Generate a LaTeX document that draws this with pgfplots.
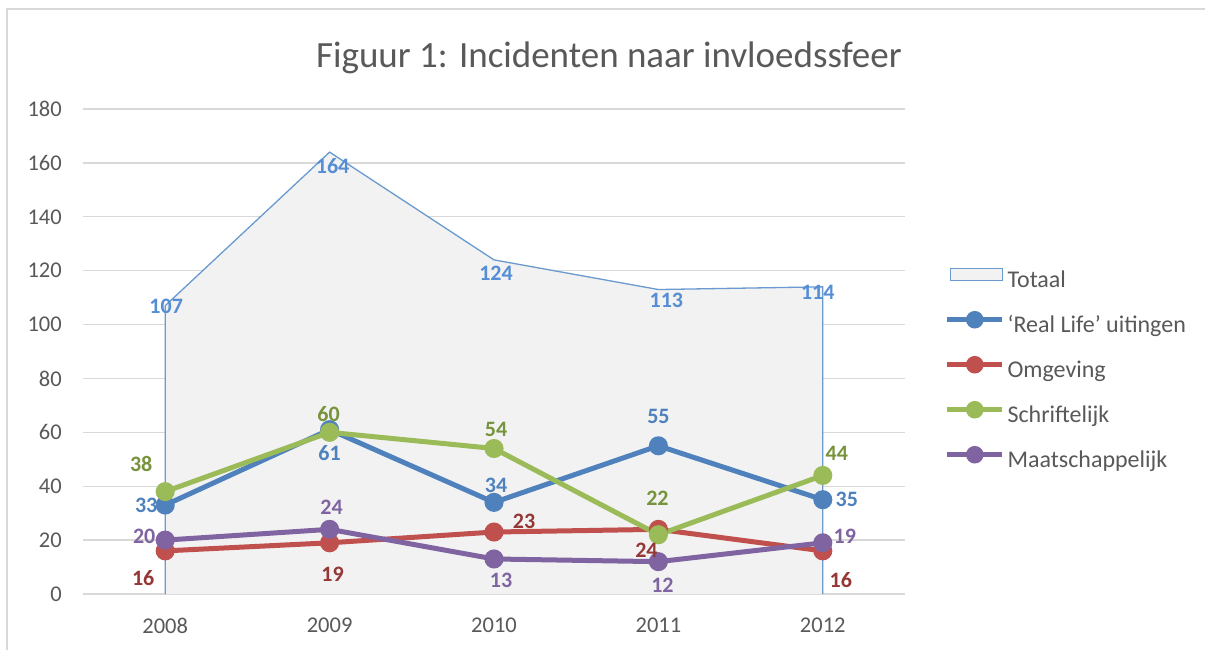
\documentclass[border=0pt]{standalone}
\usepackage{pgfplots}
\pgfplotsset{compat=1.18}
\usepackage{pgfplotstable}
\usepackage{fontspec}
\setmainfont{Carlito}
\definecolor{cBlue}{HTML}{4F81BD}
\definecolor{cRed}{HTML}{C0504D}
\definecolor{cGreen}{HTML}{9BBB59}
\definecolor{cPurple}{HTML}{8064A2}
\definecolor{lBlue}{HTML}{4F81BD}
\definecolor{lTot}{HTML}{558ED5}
\definecolor{lRed}{HTML}{953735}
\definecolor{lGreen}{HTML}{77933C}
\definecolor{lPurple}{HTML}{8064A2}
\definecolor{areaGray}{HTML}{F2F2F2}
\definecolor{areaBlue}{HTML}{6A9AD0}
\definecolor{gridGray}{HTML}{D9D9D9}
\definecolor{txtGray}{HTML}{595959}

\pgfplotstableread{
x y dx dy
0 107 1 -1
1 164 3 -14
2 124 2 -13
3 113 8 -11
4 114 -5 -6
}\totaal
\pgfplotstableread{
x y
0 0
0 107
1 164
2 124
3 113
4 114
4 0
}\totaalrand
\pgfplotstableread{
x y dx dy
0 33 -19 0
1 61 0 -23
2 34 2 17
3 55 0 29
4 35 24 0
}\reallife
\pgfplotstableread{
x y dx dy
0 16 -22 -27
1 19 3 -31
2 23 30 11
3 24 -12 -21
4 16 18 -29
}\omgeving
\pgfplotstableread{
x y dx dy
0 38 -24 28
1 60 -1 18
2 54 2 19
3 22 -1 36
4 44 14 22
}\schriftelijk
\pgfplotstableread{
x y dx dy
0 20 -21 4
1 24 2 22
2 13 7 -21
3 12 4 -24
4 19 22 7
}\maatschappelijk

\begin{document}
\begin{tikzpicture}
\path[use as bounding box, clip] (0,0) rectangle (1205pt,649pt);
\fill[white] (0,0) rectangle (1205pt,649pt);
\draw[gridGray, line width=1.5pt] (7pt,-20pt) -- (7pt,640pt) -- (1230pt,640pt);
\node[text=txtGray, font=\fontsize{37}{44}\selectfont] at (609pt,591pt) {Figuur 1: Incidenten naar invloedssfeer};
\begin{axis}[
  at={(83pt,55pt)}, anchor=south west,
  scale only axis, width=822pt, height=485pt,
  xmin=-0.5, xmax=4.5, ymin=0, ymax=180,
  xtick={0,1,2,3,4}, xticklabels={2008,2009,2010,2011,2012},
  ytick={0,20,...,180},
  /pgf/number format/assume math mode=true,
  ymajorgrids, grid style={draw=gridGray, line width=1.4pt},
  axis line style={draw=none},
  major tick length=0pt,
  tick label style={font=\fontsize{22.5}{27}\selectfont, text=txtGray},
  yticklabel style={anchor=east, inner sep=0pt, xshift=-21pt},
  xticklabel style={anchor=north, inner sep=0pt, yshift=-24pt},
  legend cell align=left,
  legend style={at={(1.0487,0.672)}, anchor=north west, draw=none, fill=none,
    inner sep=0pt, outer sep=0pt,
    font=\fontsize{24}{28}\selectfont, text=txtGray,
    row sep=21pt, column sep=3pt,
    nodes={inner sep=0pt, text height=16pt, text depth=5pt}},
  lineser/.style={line width=5pt, mark=*, mark size=7pt, mark options={solid},
    legend image code/.code={\draw[line width=4.5pt, mark size=6.5pt, mark repeat=2,mark phase=2,yshift=7pt] plot coordinates {(0pt,0pt)(27.5pt,0pt)(55pt,0pt)};}},
  lbl/.style={draw=none, mark=none, forget plot, nodes near coords, point meta=y,
    visualization depends on={\thisrow{dx}\as\lx},
    visualization depends on={\thisrow{dy}\as\ly},
    nodes near coords style={anchor=center, xshift=\lx pt, yshift=\ly pt,
      font=\bfseries\fontsize{22}{26}\selectfont, text=#1,
      /pgf/number format/fixed, /pgf/number format/precision=0,
      /pgf/number format/assume math mode=true}},
]
\addplot[fill=areaGray, draw=none, area legend,
  legend image code/.code={\draw[fill=areaGray, draw=areaBlue, line width=1.3pt] (3pt,1pt) rectangle (55pt,13pt);}]
  table[x=x,y=y] {\totaal} \closedcycle;
\addlegendentry{Totaal}
\addplot[draw=areaBlue, line width=1.3pt, forget plot] table[x=x,y=y] {\totaalrand};
\addplot[cBlue, lineser] table[x=x,y=y] {\reallife};
\addlegendentry{‘Real Life’ uitingen}
\addplot[cRed, lineser] table[x=x,y=y] {\omgeving};
\addlegendentry{Omgeving}
\addplot[cGreen, lineser] table[x=x,y=y] {\schriftelijk};
\addlegendentry{Schriftelijk}
\addplot[cPurple, lineser] table[x=x,y=y] {\maatschappelijk};
\addlegendentry{Maatschappelijk}
\addplot[lbl=lTot] table[x=x,y=y] {\totaal};
\addplot[lbl=lBlue] table[x=x,y=y] {\reallife};
\addplot[lbl=lRed] table[x=x,y=y] {\omgeving};
\addplot[lbl=lGreen] table[x=x,y=y] {\schriftelijk};
\addplot[lbl=lPurple] table[x=x,y=y] {\maatschappelijk};
\end{axis}
\end{tikzpicture}
\end{document}
